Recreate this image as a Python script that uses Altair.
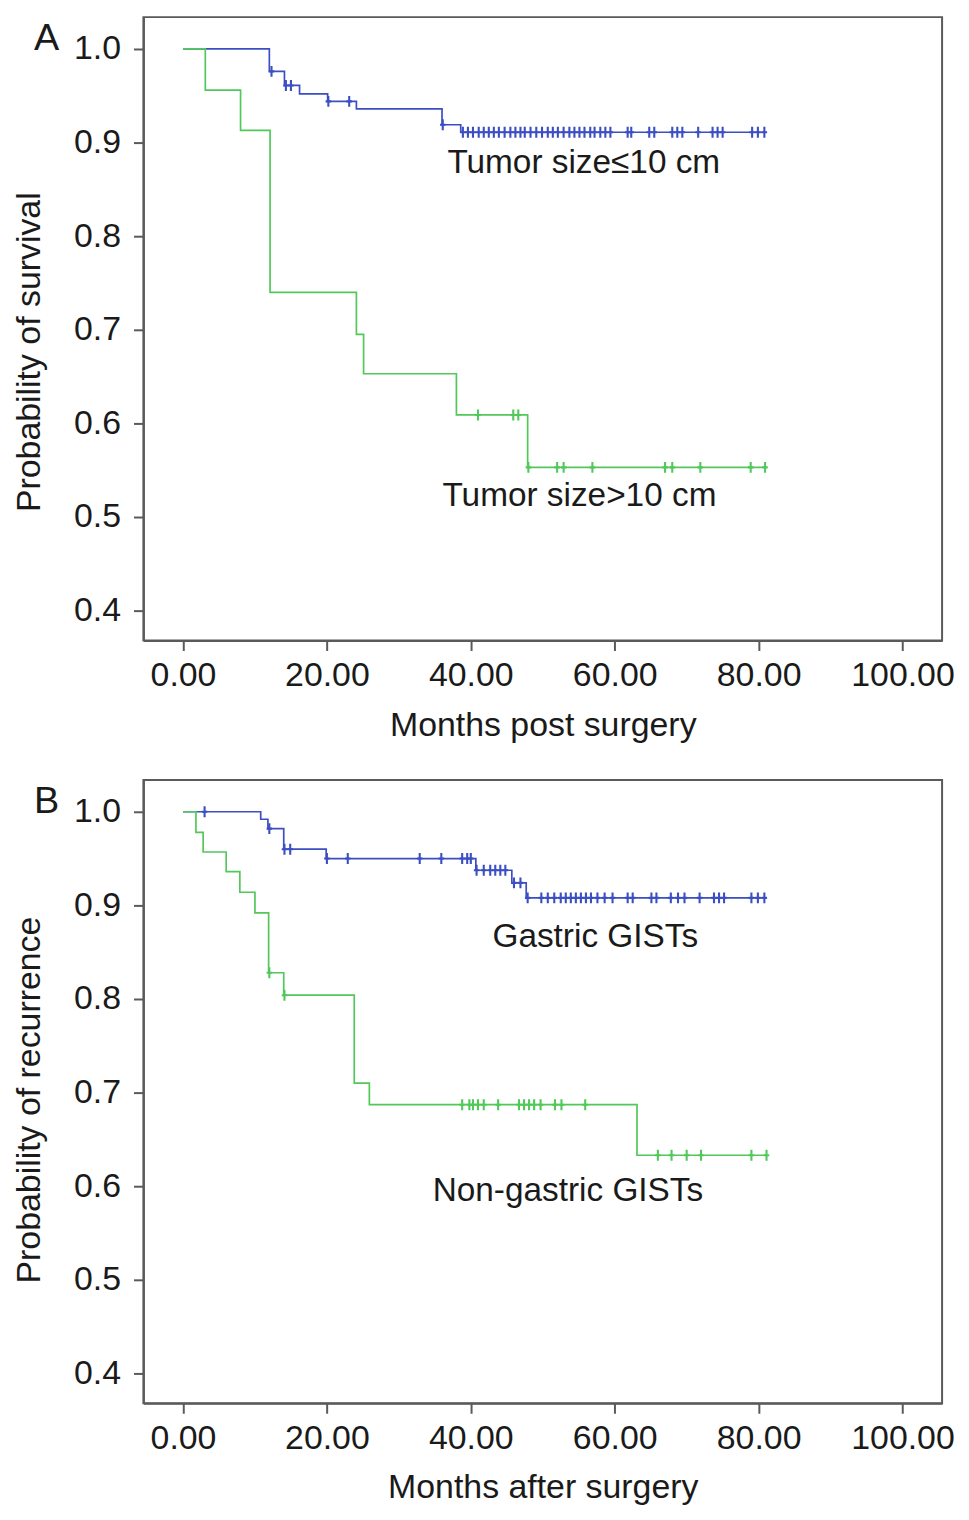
import altair as alt
import pandas as pd

# ---------------- Panel A: survival by tumor size ----------------
a_small_t = [0, 12.0, 14.1, 16.2, 20.1, 24.1, 36.0, 38.6]
a_small_s = [1.0, 0.976, 0.961, 0.952, 0.944, 0.936, 0.919, 0.911]
a_small_c = [12.3, 14.3, 15.0, 20.2, 23.1, 36.1,
             38.9, 39.6, 40.3, 41.1, 41.8, 42.5, 43.2, 43.9, 44.7, 45.5, 46.2,
             46.9, 47.5, 48.3, 49.1, 49.9, 50.7, 51.4, 52.1, 52.9, 53.7, 54.4,
             55.1, 55.8, 56.6, 57.2, 58.0, 58.7, 59.4, 61.8, 62.3, 64.8, 65.5,
             68.0, 68.7, 69.4, 71.6, 73.6, 74.3, 75.0, 79.1, 79.9, 80.8]

a_large_t = [0, 3.1, 8.0, 12.1, 24.1, 25.1, 38.0, 47.9]
a_large_s = [1.0, 0.956, 0.913, 0.740, 0.695, 0.653, 0.609, 0.553]
a_large_c = [41.0, 45.9, 46.6, 48.0, 52.0, 52.9, 56.9, 67.0, 68.0, 71.9,
             78.9, 80.9]

# ---------------- Panel B: recurrence by location ----------------
b_gas_t = [0, 10.8, 11.8, 14.0, 19.9, 40.7, 45.7, 47.7]
b_gas_s = [1.0, 0.992, 0.982, 0.960, 0.950, 0.9375, 0.924, 0.908]
b_gas_c = [3.0, 12.0, 14.1, 14.9, 20.0, 22.9, 32.9, 35.9, 38.8, 39.5, 40.0,
           40.8, 41.8, 42.7, 43.4, 44.1, 44.8, 46.0, 46.9, 47.9, 49.8, 50.7,
           51.6, 52.5, 53.2, 53.9, 54.6, 55.3, 56.0, 56.7, 57.6, 58.6, 59.7,
           61.8, 62.5, 65.1, 65.8, 67.8, 68.8, 69.7, 71.8, 73.8, 74.5, 75.2,
           79.0, 79.9, 80.8]

b_non_t = [0, 1.8, 2.8, 6.0, 7.9, 10.0, 11.9, 14.0, 23.8, 25.9, 63.1]
b_non_s = [1.0, 0.978, 0.957, 0.936, 0.914, 0.892, 0.828, 0.804, 0.710,
           0.687, 0.633]
b_non_c = [12.0, 14.1, 38.8, 39.8, 40.3, 41.0, 41.8, 43.8, 46.7, 47.4, 48.1,
           48.8, 49.7, 51.7, 52.6, 55.9, 66.0, 67.9, 70.0, 72.0, 79.0, 81.1]

x_ticks = [0, 20, 40, 60, 80, 100]
y_ticks = [0.4, 0.5, 0.6, 0.7, 0.8, 0.9, 1.0]

BLUE = "#3b4fc2"
GREEN = "#52c85a"
FONT = "Liberation Sans"


def surv_at(ts, ss, t):
    v = ss[0]
    for ti, si in zip(ts, ss):
        if t >= ti:
            v = si
    return v


def curve_rows(name, ts, ss, cs):
    rows = [{"g": name, "t": t, "s": s} for t, s in zip(ts, ss)]
    end = max(cs + ts)
    rows.append({"g": name, "t": end, "s": surv_at(ts, ss, end)})
    return rows


def cens_rows(name, ts, ss, cs):
    return [{"g": name, "t": c, "s": surv_at(ts, ss, c)} for c in cs]


def panel(letter, ytitle, xtitle, ser1, ser2, labels, title_y):
    names = [ser1[0], ser2[0]]
    lines = pd.DataFrame(curve_rows(*ser1) + curve_rows(*ser2))
    cens = pd.DataFrame(cens_rows(*ser1) + cens_rows(*ser2))
    lab = pd.DataFrame(labels, columns=["txt", "t", "s"])

    xs = alt.Scale(domain=[-5.5, 105.5], nice=False, zero=False)
    ys = alt.Scale(domain=[0.368, 1.034], nice=False, zero=False)
    col = alt.Color("g:N", scale=alt.Scale(domain=names, range=[BLUE, GREEN]),
                    legend=None)

    xax = alt.Axis(values=x_ticks, format=".2f", title=xtitle, grid=False,
                   labelPadding=8, titlePadding=16)
    yax = alt.Axis(values=y_ticks, format=".1f", title=ytitle, grid=False,
                   labelPadding=13, titlePadding=27, titleY=title_y)

    base_line = alt.Chart(lines).mark_line(
        interpolate="step-after", strokeWidth=1.7, clip=True
    ).encode(
        x=alt.X("t:Q", scale=xs, axis=xax),
        y=alt.Y("s:Q", scale=ys, axis=yax),
        color=col,
        detail="g:N",
    )
    marks = alt.Chart(cens).mark_point(
        shape="M0,-1L0,1M-0.5,0L0.5,0", filled=False, size=120,
        strokeWidth=2.1, opacity=1
    ).encode(x="t:Q", y="s:Q", color=col)
    texts = alt.Chart(lab).mark_text(
        font=FONT, fontSize=33.5, color="#1a1a1a", align="center",
        baseline="alphabetic"
    ).encode(x="t:Q", y="s:Q", text="txt:N")
    letter_df = pd.DataFrame({"txt": [letter]})
    let = alt.Chart(letter_df).mark_text(
        font=FONT, fontSize=38, color="#1a1a1a", align="left",
        baseline="alphabetic"
    ).encode(x=alt.value(-110), y=alt.value(33), text="txt:N")
    return alt.layer(base_line, marks, texts, let).properties(
        width=802, height=626)


pa = panel(
    "A", "Probability of survival", "Months post surgery",
    ("Tumor size≤10 cm", a_small_t, a_small_s, a_small_c),
    ("Tumor size>10 cm", a_large_t, a_large_s, a_large_c),
    [["Tumor size≤10 cm", 55.7, 0.867], ["Tumor size>10 cm", 55.1, 0.512]],
    336,
)
pb = panel(
    "B", "Probability of recurrence", "Months after surgery",
    ("Gastric GISTs", b_gas_t, b_gas_s, b_gas_c),
    ("Non-gastric GISTs", b_non_t, b_non_s, b_non_c),
    [["Gastric GISTs", 57.3, 0.855], ["Non-gastric GISTs", 53.5, 0.584]],
    321,
)

chart = alt.vconcat(pa, pb, spacing=36).properties(
    padding={"left": 3, "top": 5, "right": 5, "bottom": 5}
).configure(
    font=FONT,
).configure_view(
    stroke="#5a5a5a", strokeWidth=2
).configure_axis(
    labelFont=FONT, titleFont=FONT, labelFontSize=34, titleFontSize=34,
    labelColor="#1a1a1a", titleColor="#1a1a1a", titleFontWeight="normal",
    tickSize=10, tickWidth=2, tickColor="#5a5a5a", domainColor="#5a5a5a",
    domainWidth=2,
)

chart.save("out.html", embed_options={"renderer": "svg", "actions": False})
